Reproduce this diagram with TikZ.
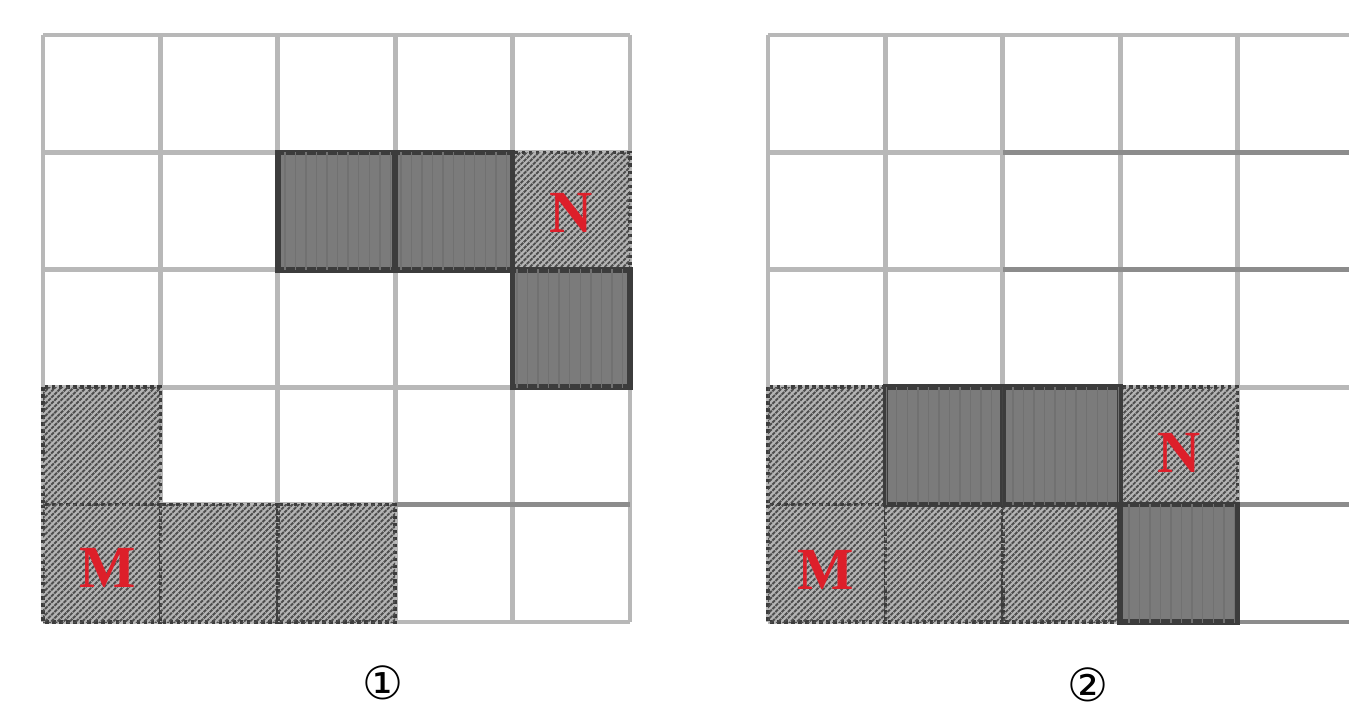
\documentclass[tikz,border=0pt]{standalone}
\usepackage{fontspec}
\usetikzlibrary{patterns.meta}
\newfontfamily\symfont{DejaVu Sans}
\newfontfamily\labfont{Liberation Serif}
\definecolor{gridgray}{HTML}{B8B8B8}
\definecolor{seamgray}{HTML}{8C8C8C}
\definecolor{cellgray}{HTML}{7B7B7B}
\definecolor{edgegray}{HTML}{3C3C3C}
\definecolor{hatchgray}{HTML}{4E4E4E}
\definecolor{hatchback}{HTML}{B4B4B4}
\definecolor{pointred}{HTML}{DD1F2A}
\tikzset{
  gridline/.style={draw=gridgray, line width=1.4pt},
  seamline/.style={draw=seamgray, line width=1.4pt},
  darkcell/.style={fill=cellgray, draw=edgegray, line width=1.6pt,
    postaction={pattern={Lines[angle=90,distance=3pt,line width=0.4pt]}, pattern color=cellgray!92!black}},
  hatchcell/.style={fill=hatchback, draw=edgegray, densely dotted, line width=1pt,
    postaction={pattern={Lines[angle=45,distance=1.25pt,line width=0.55pt]}, pattern color=hatchgray}},
  pointlabel/.style={text=pointred, font=\labfont\bfseries\fontsize{17}{19}\selectfont},
  caption/.style={font=\symfont\fontsize{13}{15}\selectfont}
}
\begin{document}
\begin{tikzpicture}[x=0.01cm,y=-0.01cm]
\useasboundingbox (0,0) rectangle (1349,710);
\clip (0,0) rectangle (1349,710);
\def\cs{117.4}
% grids
\foreach \ox in {43,768}{
  \foreach \i in {0,...,5}{
    \draw[gridline] ({\ox+\i*\cs},35) -- ({\ox+\i*\cs},{35+5*\cs});
    \draw[gridline] (\ox,{35+\i*\cs}) -- ({\ox+5*\cs},{35+\i*\cs});
  }
}
\draw[seamline] ({43+3*\cs},{35+4*\cs}) -- ({43+5*\cs},{35+4*\cs});
\draw[seamline] ({768+2*\cs},{35+1*\cs}) -- (1349,{35+1*\cs});
\draw[seamline] ({768+2*\cs},{35+2*\cs}) -- (1349,{35+2*\cs});
\draw[seamline] ({768+4*\cs},{35+4*\cs}) -- (1349,{35+4*\cs});
\draw[seamline] ({768+4*\cs},{35+5*\cs}) -- (1349,{35+5*\cs});
% left grid
\foreach \c/\r in {4/1,0/3,0/4,1/4,2/4}
  \draw[hatchcell] ({43+\c*\cs},{35+\r*\cs}) rectangle ++(\cs,\cs);
\foreach \c/\r in {2/1,3/1,4/2}
  \draw[darkcell] ({43+\c*\cs},{35+\r*\cs}) rectangle ++(\cs,\cs);
% right grid
\foreach \c/\r in {0/3,3/3,0/4,1/4,2/4}
  \draw[hatchcell] ({768+\c*\cs},{35+\r*\cs}) rectangle ++(\cs,\cs);
\foreach \c/\r in {1/3,2/3,3/4}
  \draw[darkcell] ({768+\c*\cs},{35+\r*\cs}) rectangle ++(\cs,\cs);
% points
\node[pointlabel] (N1) at (571,213) {N};
\node[pointlabel] (M1) at (108,568) {M};
\node[pointlabel] (N2) at (1179,453) {N};
\node[pointlabel] (M2) at (826,570) {M};
% captions
\node[caption] (cap1) at (383,683) {①};
\node[caption] (cap2) at (1088,685) {②};
\end{tikzpicture}
\end{document}
